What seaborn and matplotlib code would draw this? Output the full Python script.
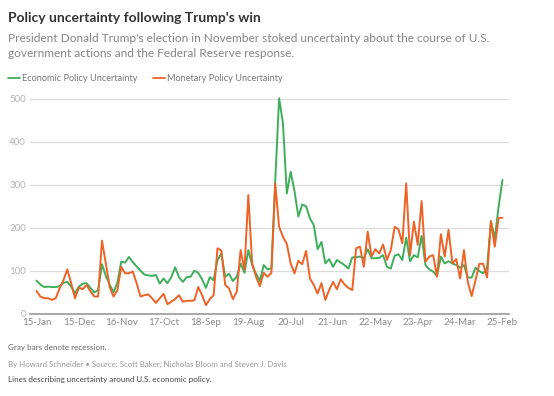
import numpy as np
import pandas as pd
import matplotlib
matplotlib.use('Agg')
from matplotlib import pyplot as plt
import seaborn as sns

sns.set_style("white")
plt.rcParams['font.family'] = ['Lato', 'DejaVu Sans']

green = '#3fae5a'
orange = '#ee6226'

# monthly, Jan 2015 .. Feb 2025
months = pd.date_range('2015-01-01', '2025-02-01', freq='MS')

epu = [77, 68, 62, 63, 62, 62, 64, 72, 74, 63,
       48, 63, 70, 71, 60, 50, 54, 115, 88, 68,
       50, 72, 121, 119, 132, 120, 110, 100, 91, 89,
       88, 90, 70, 82, 71, 85, 108, 85, 74, 85,
       86, 100, 95, 80, 60, 85, 78, 125, 140, 86,
       93, 76, 86, 117, 95, 148, 113, 93, 76, 113,
       103, 106, 310, 501, 443, 280, 330, 285, 226, 254,
       250, 222, 206, 150, 167, 117, 127, 109, 125, 119,
       113, 105, 131, 131, 133, 129, 150, 129, 129, 130,
       136, 109, 105, 135, 138, 125, 177, 122, 136, 131,
       181, 113, 103, 98, 88, 133, 117, 122, 117, 113,
       107, 113, 84, 84, 107, 99, 94, 107, 215, 175,
       249, 311]

mpu = [53, 40, 36, 36, 32, 36, 59, 78, 103, 71,
       36, 61, 57, 67, 52, 40, 40, 170, 117, 62,
       40, 55, 109, 94, 94, 98, 71, 40, 43, 45,
       36, 25, 36, 46, 22, 28, 34, 43, 28, 30,
       30, 31, 62, 43, 20, 34, 43, 152, 147, 67,
       59, 34, 51, 148, 102, 276, 117, 86, 64, 95,
       86, 95, 303, 202, 179, 162, 117, 94, 123, 115,
       146, 82, 67, 47, 71, 32, 55, 74, 57, 80,
       68, 60, 55, 152, 156, 109, 191, 133, 150, 140,
       161, 125, 148, 202, 196, 164, 303, 136, 214, 160,
       262, 121, 133, 136, 86, 185, 133, 195, 117, 127,
       82, 148, 74, 41, 78, 116, 116, 84, 215, 156,
       223, 223]

series_names = ['Economic Policy Uncertainty', 'Monetary Policy Uncertainty']
tick_labels = ['15-Jan', '15-Dec', '16-Nov', '17-Oct', '18-Sep', '19-Aug',
               '20-Jul', '21-Jun', '22-May', '23-Apr', '24-Mar', '25-Feb']
y_ticks = [0, 100, 200, 300, 400, 500]

df = pd.DataFrame({'idx': np.arange(len(months)), 'date': months,
                   series_names[0]: epu, series_names[1]: mpu})
long_df = df.melt(id_vars=['idx', 'date'], value_vars=series_names,
                  var_name='series', value_name='value')

fig = plt.figure(figsize=(5.54, 3.96), dpi=100)
ax = fig.add_axes([0.0542, 0.2078, 0.8646, 0.5538])

sns.lineplot(data=long_df, x='idx', y='value', hue='series',
             palette=[green, orange], linewidth=1.4, ax=ax, legend=False)

ax.set_xlim(-1.68, 122.7)
ax.set_ylim(0, 510)
ax.set_yticks(y_ticks)
ax.set_yticklabels([str(v) for v in y_ticks], color='#b5b5b5', fontsize=7)
ax.set_xticks(np.arange(0, len(months), 11))
ax.set_xticklabels(tick_labels, color='#8a8a8a', fontsize=7)
ax.tick_params(axis='both', length=0, pad=3)
ax.set_xlabel('')
ax.set_ylabel('')
ax.grid(axis='y', color='#dcdcdc', linewidth=0.9)
ax.set_axisbelow(True)
for s in ['top', 'right', 'left']:
    ax.spines[s].set_visible(False)
ax.spines['bottom'].set_color('#9a9a9a')
ax.spines['bottom'].set_linewidth(1.2)

# header
fig.text(0.0145, 0.945, "Policy uncertainty following Trump's win",
         fontsize=10, fontweight='bold', color='#333333')
fig.text(0.0145, 0.895,
         "President Donald Trump's election in November stoked uncertainty about the course of U.S.",
         fontsize=8.6, color='#858585')
fig.text(0.0145, 0.855, "government actions and the Federal Reserve response.",
         fontsize=8.6, color='#858585')

# legend
for x0, name, col in [(0.0145, series_names[0], green), (0.276, series_names[1], orange)]:
    fig.lines.append(plt.Line2D([x0, x0 + 0.0215], [0.803, 0.803], color=col,
                                linewidth=1.3, transform=fig.transFigure))
    fig.text(x0 + 0.026, 0.803, name, fontsize=6.6, color='#777777', va='center')

# footer
fig.text(0.0145, 0.115, "Gray bars denote recession.", fontsize=5.8, color='#666666')
fig.text(0.0145, 0.073,
         "By Howard Schneider \u2022 Source: Scott Baker, Nicholas Bloom and Steven J. Davis",
         fontsize=5.7, color='#999999')
fig.text(0.0145, 0.035, "Lines describing uncertainty around U.S. economic policy.",
         fontsize=5.8, color='#444444')

fig.savefig('out.png', dpi=100)
